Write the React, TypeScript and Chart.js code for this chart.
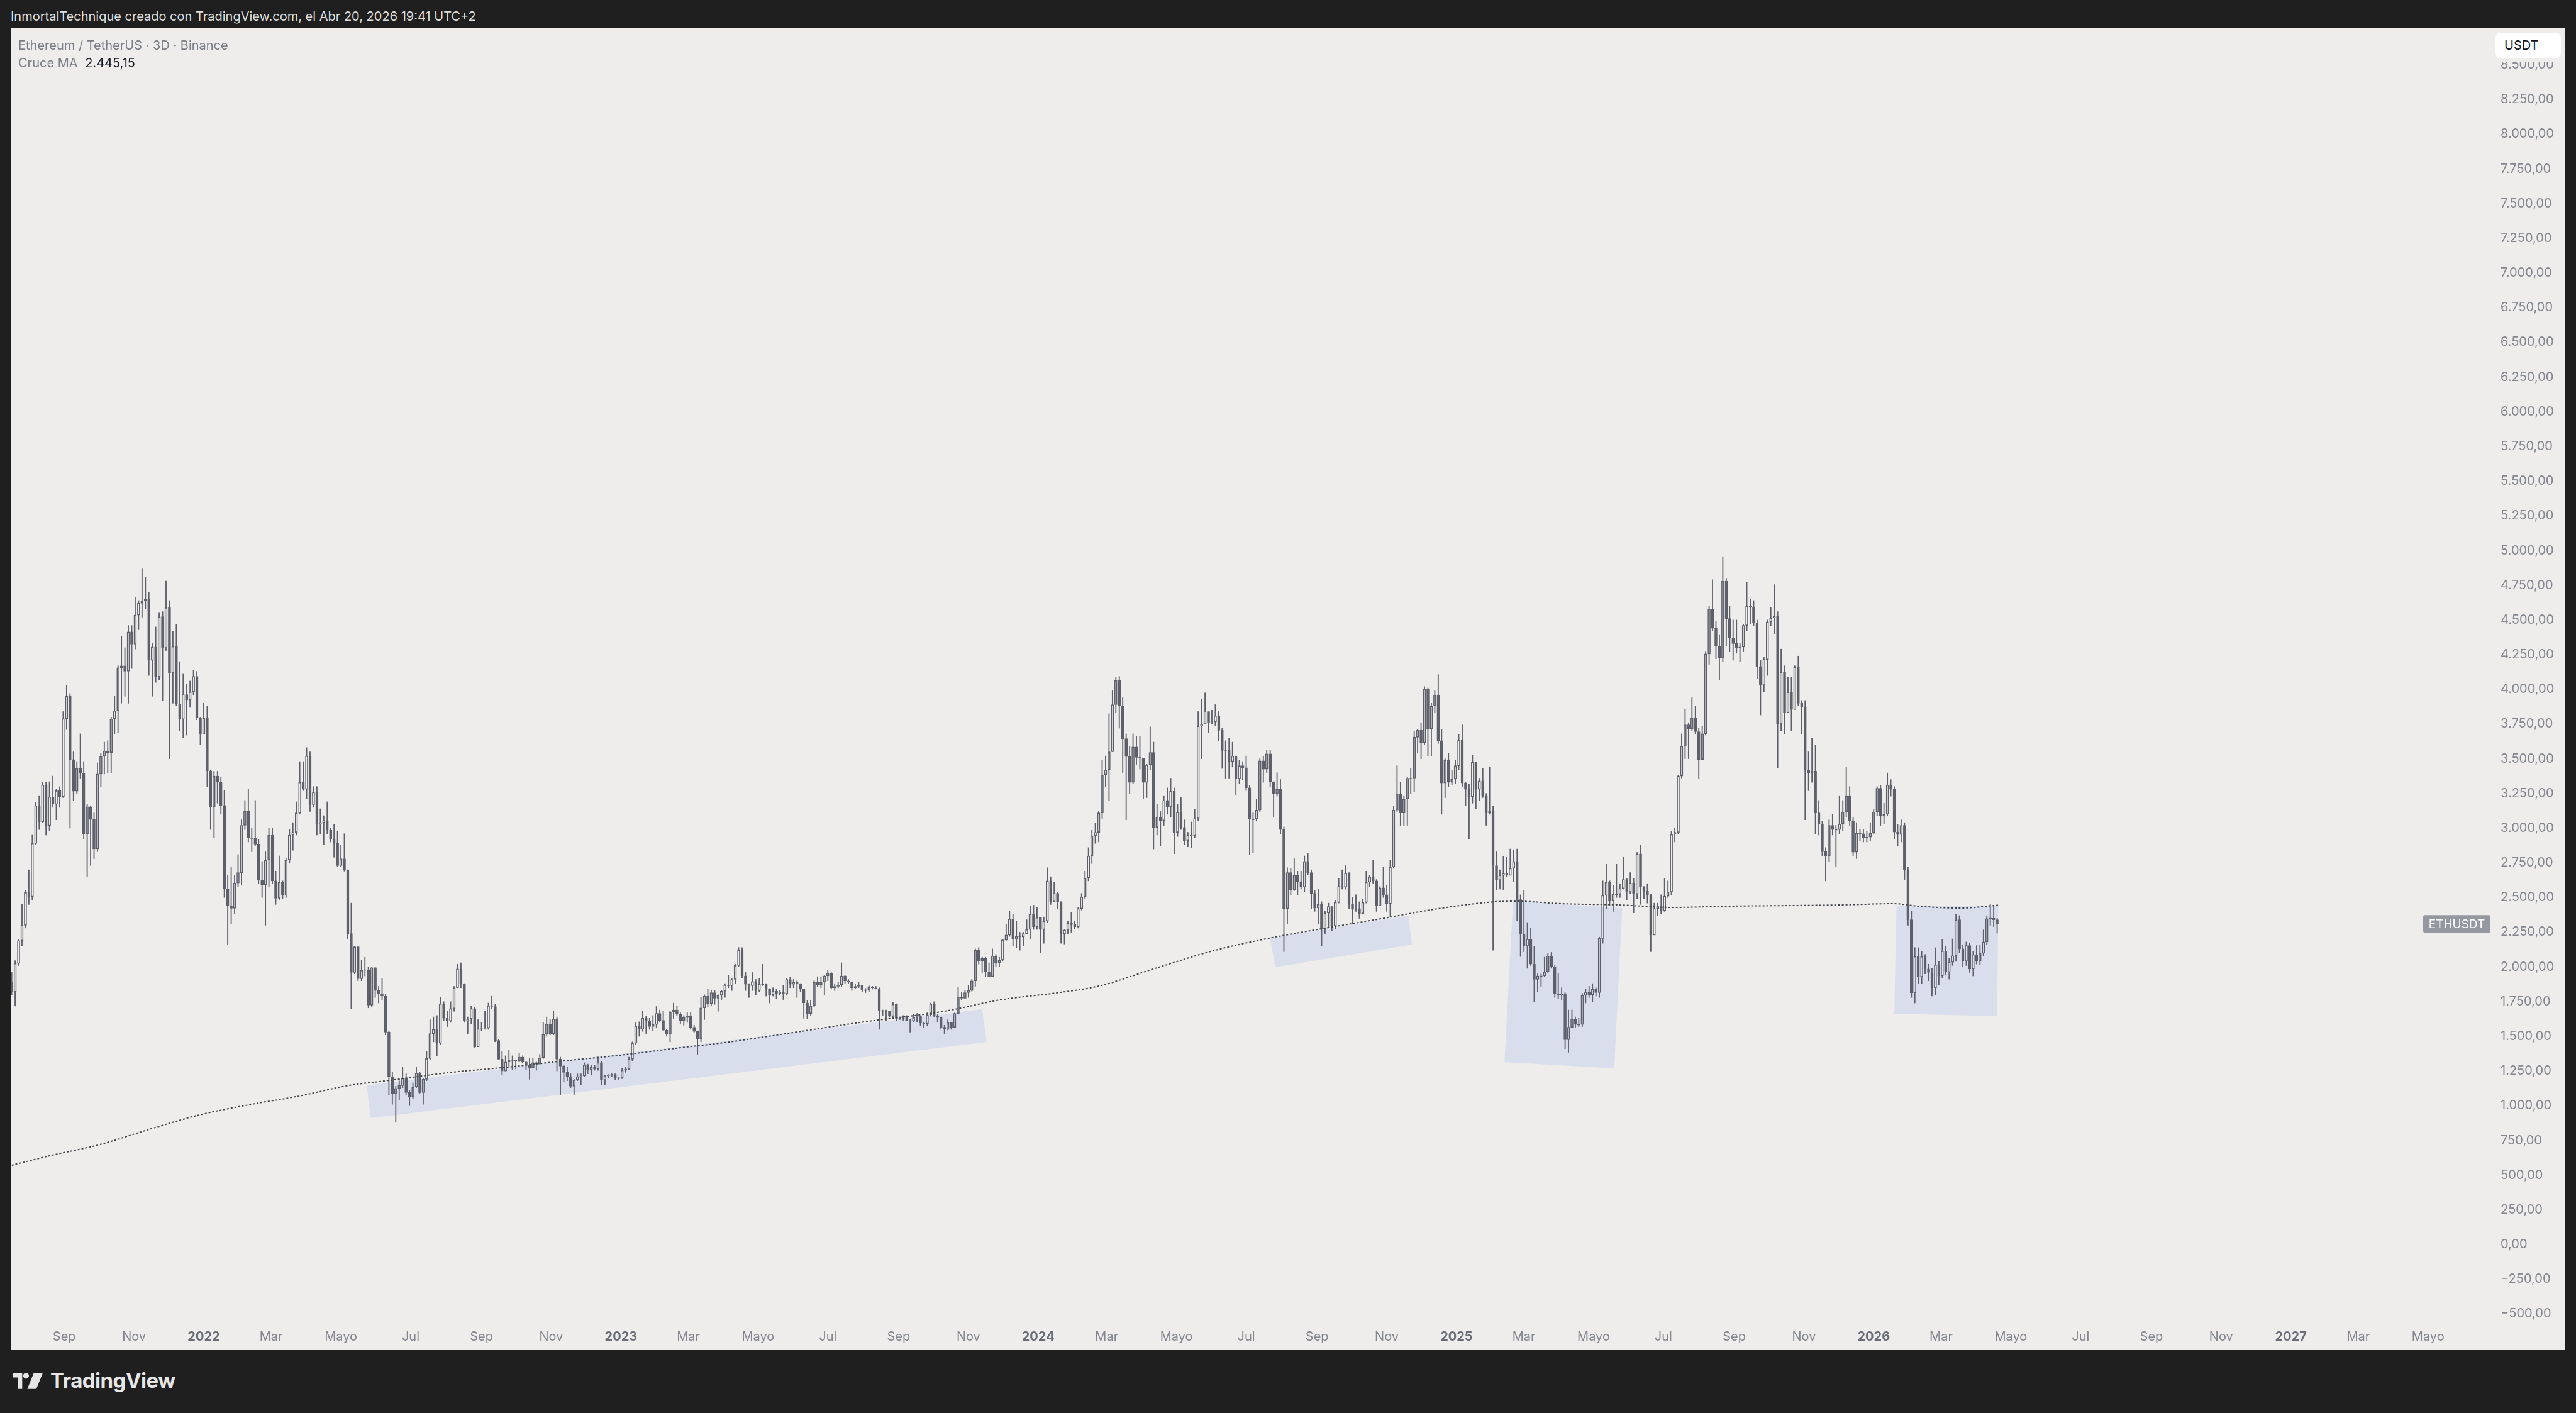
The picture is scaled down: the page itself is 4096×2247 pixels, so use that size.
import React, { useEffect, useRef } from 'react';
import { Chart, registerables } from 'chart.js';

Chart.register(...registerables);

// ETH/USDT 3D candles, one every 3 days starting 2021-07-17 (day -168 from 2022-01-01)
const firstDay = -168;
const firstOpen = 1895;

const close21 = [1820,2025,2190,2300,2536,2505,2890,3163,3045,3311,3017,3225,3172,3270,3225,3789,3951,3494,3266,3430,3397,2958,3155,3062,2850,3390,3517,3557,3545,3787,3846,4156,4169,4130,4414,4325,4535,4620,4636,4648,4209,4305,4090,4524,4298,4588,4119,4308,3894,3784,3962,3923,3981,4093,3796,3676];
const high21 = [1960,2045,2200,2450,2550,2700,2950,3185,3230,3330,3330,3335,3375,3280,3300,3840,4030,3970,3550,3480,3680,3480,3170,3160,3110,3470,3540,3620,3630,3800,3950,4170,4380,4300,4460,4460,4665,4640,4868,4810,4700,4330,4450,4550,4560,4780,4640,4420,4470,4200,4110,4040,4060,4140,4130,3800];
const low21 = [1800,1718,2010,2150,2280,2450,2480,2880,2990,3040,2950,2980,3150,3060,3150,3220,3710,3000,3200,3250,3360,2920,2652,2730,2780,2830,3300,3390,3400,3400,3680,3690,3900,3950,3900,4150,4290,4430,4520,4580,4100,3950,4050,4070,3920,4280,3500,3900,3880,3700,3650,3670,3870,3960,3780,3600];

const close22 = [
  3794,3413,3154,3375,3331,3164,2560,2441,2422,2605,
  2680,3020,3120,2930,2930,2885,2625,2590,2770,2950,
  2620,2495,2610,2515,2770,2950,2970,3110,3330,3280,
  3520,3170,3260,3030,3040,3055,2985,2920,2890,2730,
  2780,2700,2240,1960,2145,1915,1975,1980,1725,1995,
  1830,1805,1790,1530,1210,1085,1125,1145,1200,1095,
  1065,1135,1235,1095,1190,1340,1520,1550,1450,1735,
  1630,1610,1700,1850,1985,1875,1610,1625,1700,1425,
  1555,1555,1560,1720,1715,1470,1335,1250,1315,1330,
  1330,1325,1350,1315,1295,1275,1310,1300,1345,1515,
  1590,1520,1625,1335,1285,1240,1210,1140,1185,1210,
  1215,1295,1260,1280,1265,1310,1185,1215,1220,1225,
  1200,1200];
const high22 = [
  3900,3880,3420,3410,3410,3370,3270,2660,2720,2660,
  2810,3060,3200,3280,3000,3200,2920,2760,2830,3000,
  3000,2690,2800,2620,2780,2990,3040,3190,3480,3480,
  3580,3550,3300,3300,3140,3090,3190,3000,3030,2980,
  2880,2960,2700,2460,2150,2150,2050,2070,2000,2000,
  2000,1860,1915,1805,1540,1240,1140,1180,1280,1230,
  1110,1165,1280,1240,1200,1390,1620,1640,1650,1780,
  1750,1680,1750,1860,2020,2030,1880,1640,1720,1710,
  1620,1600,1680,1740,1790,1730,1480,1390,1360,1400,
  1360,1330,1380,1360,1320,1340,1340,1315,1370,1600,
  1640,1620,1680,1640,1350,1290,1280,1230,1190,1230,
  1230,1310,1300,1290,1290,1350,1320,1220,1225,1230,
  1230,1205];
const low22 = [
  3690,3300,2990,2930,3180,3100,2500,2159,2310,2380,
  2580,2590,2990,2900,2830,2870,2600,2500,2300,2580,
  2600,2450,2480,2490,2500,2750,2840,2950,3100,3270,
  3210,3120,3150,2950,2960,2880,2960,2900,2790,2725,
  2720,2690,2200,1700,1950,1900,1900,1935,1705,1710,
  1780,1740,1765,1510,1075,1010,880,1040,1130,1080,
  1000,1050,1130,1090,1010,1180,1330,1460,1360,1440,
  1610,1570,1600,1680,1850,1850,1600,1520,1590,1420,
  1425,1540,1550,1550,1700,1460,1330,1220,1250,1280,
  1260,1265,1315,1305,1260,1190,1270,1255,1300,1340,
  1500,1510,1510,1250,1080,1170,1180,1130,1075,1180,
  1150,1210,1230,1220,1255,1255,1150,1150,1200,1210,
  1185,1190];

const close23 = [
  1255,1265,1335,1450,1575,1550,1630,1610,1570,1585,
  1665,1615,1545,1515,1675,1690,1660,1610,1635,1645,
  1565,1535,1480,1705,1790,1735,1815,1775,1795,1825,
  1870,1865,1910,2010,2120,1935,1875,1865,1895,1830,
  1875,1875,1840,1800,1825,1810,1820,1805,1910,1875,
  1890,1880,1840,1740,1665,1720,1890,1870,1890,1935,
  1955,1850,1860,1870,1935,1900,1890,1850,1860,1865,
  1835,1835,1855,1850,1845,1685,1685,1680,1645,1730,
  1630,1630,1645,1615,1610,1635,1645,1595,1590,1655,
  1735,1645,1635,1565,1550,1600,1565,1665,1785,1775,
  1815,1830,1900,2120,2045,2060,1965,1930,2080,2030,
  2050,2195,2230,2345,2200,2220,2215,2240,2270,2380,
  2290,2355];
const high23 = [
  1270,1280,1350,1460,1600,1605,1680,1645,1630,1650,
  1715,1690,1680,1550,1680,1740,1720,1670,1650,1670,
  1670,1580,1540,1780,1800,1840,1830,1830,1800,1830,
  1880,1940,1915,2020,2140,2140,1960,1880,1960,1910,
  1920,2020,1880,1845,1850,1840,1830,1870,1915,1925,
  1910,1900,1880,1840,1760,1760,1900,1930,1930,1940,
  1975,1960,1880,1890,2030,1940,1910,1890,1875,1890,
  1870,1845,1865,1860,1860,1850,1690,1690,1660,1745,
  1735,1640,1650,1650,1625,1660,1665,1650,1600,1670,
  1740,1750,1660,1640,1580,1620,1600,1670,1855,1820,
  1830,1870,1910,2130,2140,2070,2070,2030,2130,2090,
  2070,2200,2310,2400,2380,2330,2250,2250,2340,2440,
  2445,2430];
const low23 = [
  1195,1240,1260,1320,1440,1500,1535,1520,1550,1540,
  1560,1600,1540,1500,1460,1630,1650,1590,1580,1600,
  1550,1530,1370,1460,1620,1710,1720,1730,1680,1765,
  1780,1850,1830,1880,2005,1920,1830,1780,1830,1800,
  1820,1865,1790,1740,1790,1770,1795,1765,1795,1850,
  1850,1780,1820,1630,1625,1650,1710,1855,1850,1800,
  1900,1840,1830,1850,1860,1880,1880,1830,1845,1850,
  1820,1815,1820,1840,1840,1550,1650,1610,1640,1640,
  1610,1620,1615,1610,1530,1605,1605,1575,1560,1575,
  1645,1640,1605,1550,1520,1545,1550,1560,1660,1760,
  1770,1780,1825,1860,2020,1960,1930,1930,1930,2000,
  2000,2040,2190,2220,2150,2140,2120,2150,2250,2200,
  2270,2270];

const close24 = [
  2270,2330,2620,2470,2530,2470,2240,2265,2315,2305,
  2290,2420,2505,2640,2800,2945,2970,3110,3385,3420,
  3550,3890,4065,3880,3645,3515,3330,3585,3510,3505,
  3330,3455,3545,3005,3080,3055,3200,3155,3265,2970,
  3115,3005,2910,2950,2945,3070,3735,3750,3840,3760,
  3765,3810,3705,3560,3565,3480,3520,3355,3450,3435,
  3290,3065,3065,3130,3485,3425,3535,3335,3250,3280,
  2990,2420,2680,2555,2660,2615,2575,2760,2680,2530,
  2425,2450,2275,2390,2435,2295,2465,2580,2575,2675,
  2450,2415,2420,2385,2465,2610,2650,2620,2440,2570,
  2520,2455,2720,3130,3245,3110,3210,3360,3360,3655,
  3705,3615,4000,3715,3880,3960,3630,3325,3490,3330,
  3355,3450];
const high24 = [
  2290,2360,2715,2650,2610,2540,2465,2270,2330,2395,
  2330,2430,2530,2690,2860,2985,3035,3120,3490,3520,
  3825,3990,4090,4093,3940,3680,3590,3680,3660,3660,
  3500,3460,3730,3620,3170,3120,3230,3290,3360,3290,
  3170,3220,3060,2970,3045,3135,3840,3930,3975,3830,
  3850,3890,3840,3720,3630,3650,3620,3520,3490,3480,
  3520,3310,3110,3210,3500,3520,3560,3560,3330,3400,
  3350,3010,2715,2710,2780,2690,2690,2800,2820,2700,
  2550,2560,2470,2400,2460,2430,2480,2640,2700,2730,
  2680,2500,2520,2470,2490,2690,2660,2770,2630,2580,
  2720,2590,2770,3160,3450,3330,3230,3370,3430,3700,
  3710,3760,4020,4010,3900,3990,4107,3710,3500,3540,
  3420,3490];
const low24 = [
  2100,2170,2320,2450,2490,2420,2170,2165,2235,2245,
  2275,2280,2410,2490,2620,2745,2890,2900,3070,3300,
  3200,3560,3830,3720,3400,3060,3250,3320,3460,3425,
  3210,3220,3420,2850,2950,2870,3020,3100,3080,2815,
  2940,2990,2880,2865,2860,2930,3055,3500,3750,3690,
  3750,3740,3630,3430,3360,3360,3440,3240,3320,3350,
  3270,2810,2820,3050,3120,3330,3400,3300,3080,3230,
  2960,2110,2310,2520,2550,2520,2560,2540,2665,2420,
  2400,2310,2150,2240,2280,2260,2275,2460,2560,2560,
  2420,2310,2400,2350,2380,2460,2580,2600,2400,2440,
  2500,2400,2360,2710,3120,3020,3020,3020,3250,3260,
  3540,3500,3600,3520,3520,3830,3610,3100,3220,3300,
  3310,3320];

const close25 = [
  3635,3325,3280,3225,3475,3280,3340,3230,3110,3120,
  2730,2625,2660,2675,2660,2710,2760,2485,2235,2150,
  2200,2020,1910,1935,1935,1965,2080,2000,1805,1795,
  1805,1475,1565,1625,1585,1585,1795,1820,1800,1840,
  1815,2205,2515,2610,2475,2525,2525,2565,2630,2540,
  2605,2525,2815,2575,2545,2520,2230,2420,2435,2405,
  2510,2540,2955,2970,3375,3590,3745,3715,3795,3695,
  3495,3680,4255,4580,4440,4310,4225,4780,4510,4370,
  4330,4300,4305,4460,4600,4590,4480,4165,4030,4215,
  4485,4515,4525,3750,4125,3830,3980,3855,4160,3900,
  3875,3420,3400,3410,3110,3030,2830,2800,3020,2990,
  2990,3030,3117,3230,3054,2827,2963,2960,2930,2935,
  2965];
const high25 = [
  3675,3745,3330,3320,3525,3450,3360,3430,3250,3440,
  3160,2830,2700,2795,2790,2850,2845,2850,2520,2550,
  2320,2280,2150,1950,1950,2070,2100,2105,2010,1955,
  1850,1815,1690,1690,1640,1630,1810,1840,1860,1880,
  1850,2215,2620,2740,2620,2590,2740,2600,2790,2640,
  2680,2640,2825,2880,2580,2600,2525,2460,2460,2520,
  2640,2620,2980,3000,3380,3680,3860,3760,3940,3880,
  3720,3735,4270,4600,4790,4490,4390,4956,4800,4600,
  4500,4500,4330,4470,4770,4650,4640,4500,4210,4230,
  4500,4590,4755,4560,4290,4170,4090,4090,4170,4240,
  3920,3920,3550,3650,3600,3200,3050,2860,3060,3100,
  3020,3230,3200,3440,3300,3080,3040,2990,2990,2980,
  3040];
const low25 = [
  3420,3300,3160,2920,3180,3140,3200,3220,3020,3100,
  2120,2555,2560,2555,2650,2660,2615,2330,2075,2110,
  1990,2010,1750,1820,1860,1930,1960,1990,1780,1770,
  1760,1410,1385,1560,1565,1570,1570,1740,1780,1750,
  1790,1780,2170,2420,2440,2400,2500,2500,2560,2480,
  2530,2390,2490,2450,2490,2460,2110,2240,2370,2380,
  2400,2500,2520,2900,2960,3360,3500,3500,3700,3680,
  3355,3570,3670,4180,4420,4220,4070,4200,4310,4270,
  4210,4260,4200,4270,4420,4470,4460,4075,3815,3980,
  4100,4460,4400,3435,3700,3680,3850,3700,3880,3880,
  3680,3060,3270,3330,2960,2950,2800,2620,2760,2950,
  2720,2960,2980,3080,3020,2800,2780,2910,2900,2900,
  2910];

const close26 = [3117,3287,3086,3100,3312,3280,2972,2954,3020,2696,2340,1814,2075,1928,2075,1985,1960,1850,2016,1935,2114,1962,2034,2081,2340,2130,2041,2154,1985,2089,2041,2098,2180,2348,2350,2340,2310];
const high26 = [3135,3300,3310,3180,3398,3350,3300,3030,3060,3040,2720,2400,2140,2139,2110,2090,2020,1990,2139,2040,2200,2150,2060,2202,2381,2370,2160,2180,2170,2110,2154,2160,2267,2370,2453,2440,2350];
const low26 = [2960,3090,3020,3030,3090,3230,2920,2870,2900,2630,2300,1780,1740,1880,1880,1950,1900,1790,1800,1870,1920,1940,1912,2010,2040,2100,2000,2010,1960,1935,2020,2016,2080,2160,2300,2290,2243];

// "Cruce MA" line (day from 2022-01-01, price)
const maDays = [-168,-135,-91,-48,-4,39,83,127,163,217,266,315,364,413,455,501,574,648,697,746,783,834,883,932,981,1030,1080,1129,1148,1188,1237,1286,1336,1385,1434,1478,1500,1537,1570];
const maValues = [571,639,720,829,933,1006,1069,1146,1183,1241,1278,1323,1364,1414,1454,1509,1600,1681,1763,1813,1862,1994,2116,2207,2279,2347,2420,2469,2474,2456,2447,2429,2438,2442,2447,2456,2438,2424,2445];
const maLast = '2.445,15';

// shaded zones drawn on the chart: four corners each as [day, price]
const zone1 = [[142.5,1146],[681,1695],[685,1459],[146,911]];
const zone2 = [[933,2207],[1054,2370],[1057,2161],[937.5,1998]];
const zone3 = [[1145.5,2474],[1241,2424],[1234,1269],[1138,1314]];
const zone4 = [[1481,2442],[1570,2438],[1569,1645],[1479,1663]];

// time axis labels, every two months from Sep 2021
const tickLabels = ['Sep','Nov','2022','Mar','Mayo','Jul','Sep','Nov','2023','Mar','Mayo','Jul','Sep','Nov','2024','Mar','Mayo','Jul','Sep','Nov','2025','Mar','Mayo','Jul','Sep','Nov','2026','Mar','Mayo','Jul','Sep','Nov','2027','Mar','Mayo'];

// price axis ticks
const priceTicks = [-500,-250,0,250,500,750,1000,1250,1500,1750,2000,2250,2500,2750,3000,3250,3500,3750,4000,4250,4500,4750,5000,5250,5500,5750,6000,6250,6500,6750,7000,7250,7500,7750,8000,8250,8500];

const FONT = "Inter, 'Noto Sans', sans-serif";
const CANDLE = '#5d606b';
const AXIS_TEXT = '#83868f';
const PANEL_BG = '#eeedeb';
const DAY = 86400000;
const EPOCH = Date.UTC(2022, 0, 1);

const closes = [...close21, ...close22, ...close23, ...close24, ...close25, ...close26];
const highs = [...high21, ...high22, ...high23, ...high24, ...high25, ...high26];
const lows = [...low21, ...low22, ...low23, ...low24, ...low25, ...low26];

const candles = closes.map((c, i) => {
  const o = i === 0 ? firstOpen : closes[i - 1];
  return { x: firstDay + 3 * i, o, c, h: Math.max(highs[i], o, c), l: Math.min(lows[i], o, c) };
});

const tickDays = tickLabels.map((_, k) => (Date.UTC(2021, 8 + 2 * k, 1) - EPOCH) / DAY);

const fmtPrice = (v: number) => {
  const a = Math.abs(v);
  const i = Math.floor(a + 1e-9);
  const d = Math.round((a - i) * 100);
  const s = String(i).replace(/\B(?=(\d{3})+(?!\d))/g, '.') + ',' + String(d).padStart(2, '0');
  return (v < 0 ? '\u2212' : '') + s;
};

const zonesPlugin = {
  id: 'zones',
  beforeDatasetsDraw(chart: any) {
    const { ctx, chartArea, scales } = chart;
    ctx.save();
    ctx.beginPath();
    ctx.rect(chartArea.left, chartArea.top, chartArea.right - chartArea.left, chartArea.bottom - chartArea.top);
    ctx.clip();
    ctx.fillStyle = 'rgba(41, 98, 255, 0.1)';
    [zone1, zone2, zone3, zone4].forEach((z) => {
      ctx.beginPath();
      z.forEach(([d, p], k) => {
        const px = scales.x.getPixelForValue(d);
        const py = scales.y.getPixelForValue(p);
        if (k === 0) ctx.moveTo(px, py); else ctx.lineTo(px, py);
      });
      ctx.closePath();
      ctx.fill();
    });
    ctx.restore();
  },
};

const symbolLabelPlugin = {
  id: 'symbolLabel',
  afterDatasetsDraw(chart: any) {
    const { ctx, chartArea, scales } = chart;
    const y = scales.y.getPixelForValue(closes[closes.length - 1]);
    const w = 107, h = 28;
    ctx.save();
    ctx.fillStyle = '#9598a1';
    ctx.beginPath();
    ctx.roundRect(chartArea.right - w, y - h / 2, w, h, 3);
    ctx.fill();
    ctx.fillStyle = '#ffffff';
    ctx.font = `19px ${FONT}`;
    ctx.textAlign = 'center';
    ctx.textBaseline = 'middle';
    ctx.fillText('ETHUSDT', chartArea.right - w / 2, y + 1);
    ctx.restore();
  },
};

function PriceChart() {
  const ref = useRef<HTMLCanvasElement>(null);
  useEffect(() => {
    const ctx = ref.current!.getContext('2d')!;
    const chart = new Chart(ctx, {
      type: 'bar',
      data: {
        datasets: [
          {
            type: 'line',
            data: maDays.map((d, i) => ({ x: d, y: maValues[i] })),
            borderColor: '#3f424a',
            borderWidth: 2,
            borderDash: [3, 3],
            pointRadius: 0,
            cubicInterpolationMode: 'monotone',
            order: 0,
          } as any,
          {
            data: candles.map((k) => ({ x: k.x, y: [Math.max(k.o, k.c), k.h] })),
            backgroundColor: CANDLE,
            borderWidth: 0,
            barThickness: 1.2,
            grouped: false,
            order: 2,
          } as any,
          {
            data: candles.map((k) => ({ x: k.x, y: [k.l, Math.min(k.o, k.c)] })),
            backgroundColor: CANDLE,
            borderWidth: 0,
            barThickness: 1.2,
            grouped: false,
            order: 2,
          } as any,
          {
            data: candles.map((k) => ({ x: k.x, y: [k.o, k.c] })),
            backgroundColor: candles.map((k) => (k.c >= k.o ? 'rgba(0,0,0,0)' : CANDLE)),
            borderColor: CANDLE,
            borderWidth: 1,
            borderSkipped: false,
            barThickness: 4,
            minBarLength: 1,
            grouped: false,
            order: 1,
          } as any,
        ],
      },
      options: {
        animation: false,
        responsive: false,
        maintainAspectRatio: false,
        layout: { padding: 0 },
        plugins: { legend: { display: false }, tooltip: { enabled: false } },
        scales: {
          x: {
            type: 'linear',
            min: -168.9,
            max: 2000.6,
            offset: false,
            grid: { display: false, drawTicks: false },
            border: { display: false },
            afterBuildTicks: (s: any) => {
              s.ticks = tickDays.map((v) => ({ value: v }));
            },
            afterFit: (s: any) => {
              s.height = 47;
              s.paddingLeft = 0;
              s.paddingRight = 0;
            },
            ticks: {
              autoSkip: false,
              maxRotation: 0,
              padding: 14,
              font: (c: any) => ({ family: FONT, size: 20, weight: /^\d{4}$/.test(tickLabels[c.index] || '') ? '700' : '400' }),
              color: (c: any) => (/^\d{4}$/.test(tickLabels[c.index] || '') ? '#6a6d76' : AXIS_TEXT),
              callback: (_v: any, i: number) => tickLabels[i],
            },
          },
          y: {
            type: 'linear',
            position: 'right',
            min: -548,
            max: 8763,
            grid: { display: false, drawTicks: false },
            border: { display: false },
            afterBuildTicks: (s: any) => {
              s.ticks = priceTicks.map((v) => ({ value: v }));
            },
            afterFit: (s: any) => {
              s.width = 118;
              s.paddingTop = 0;
              s.paddingBottom = 0;
            },
            ticks: {
              autoSkip: false,
              padding: 16,
              crossAlign: 'near',
              font: { family: FONT, size: 20 },
              color: AXIS_TEXT,
              callback: (v: any) => fmtPrice(Number(v)),
            },
          },
        },
      } as any,
      plugins: [zonesPlugin, symbolLabelPlugin],
    });
    return () => chart.destroy();
  }, []);
  return <canvas ref={ref} width={4061} height={2102} style={{ position: 'absolute', left: 0, top: 0 }} />;
}

function Logo() {
  return (
    <svg width="48" height="26" viewBox="0 0 47 25" style={{ position: 'absolute', left: 20, top: 2183 }}>
      <path d="M0 0 H15 V25 H8 V7 H0 Z" fill="#e6e6e6" />
      <circle cx="21" cy="4.5" r="4.5" fill="#e6e6e6" />
      <path d="M33 0 H47 L37 25 H23 Z" fill="#e6e6e6" />
    </svg>
  );
}

export default function App() {
  return (
    <div style={{ position: 'absolute', left: 0, top: 0, width: 4096, height: 2247, background: '#1f1f1f', overflow: 'hidden', fontFamily: FONT }}>
      <div style={{ position: 'absolute', left: 17, top: 12, fontSize: 20, lineHeight: '28px', color: '#dedede' }}>
        InmortalTechnique creado con TradingView.com, el Abr 20, 2026 19:41 UTC+2
      </div>
      <div style={{ position: 'absolute', left: 17, top: 45, width: 4061, height: 2102, background: PANEL_BG }}>
        <PriceChart />
        <div style={{ position: 'absolute', left: 12, top: 14, fontSize: 20, lineHeight: '26px', color: '#7a7d86' }}>
          Ethereum / TetherUS · 3D · Binance
        </div>
        <div style={{ position: 'absolute', left: 12, top: 42, fontSize: 20, lineHeight: '26px', color: '#7a7d86' }}>
          Cruce MA <span style={{ color: '#131722', marginLeft: 6 }}>{maLast}</span>
        </div>
        <div style={{ position: 'absolute', left: 3943, top: 0, width: 118, height: 53, background: PANEL_BG }}>
          <div style={{ position: 'absolute', left: 8, top: 7, width: 104, height: 41, background: '#ffffff', borderRadius: 8, fontSize: 20, lineHeight: '41px', color: '#131722', paddingLeft: 14, boxSizing: 'border-box' }}>
            USDT
          </div>
        </div>
      </div>
      <Logo />
      <div style={{ position: 'absolute', left: 80, top: 2174, fontSize: 33, fontWeight: 700, lineHeight: '42px', color: '#e6e6e6', letterSpacing: -0.5 }}>
        TradingView
      </div>
    </div>
  );
}
